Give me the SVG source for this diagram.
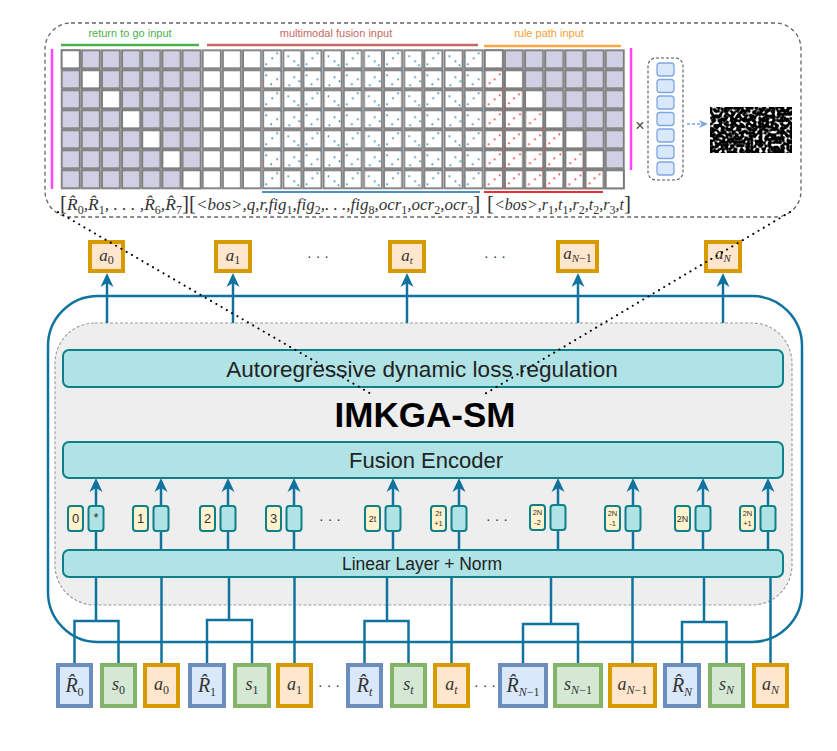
<svg xmlns="http://www.w3.org/2000/svg" width="837" height="751" viewBox="0 0 837 751">
<defs>
<style>
.bar{fill:#b0e3e6;stroke:#0e8088;stroke-width:2}
.tk{fill:#b0e3e6;stroke:#0e8088;stroke-width:2}
.ty{fill:#fff2cc;stroke:#0e8088;stroke-width:2}
.out{fill:#ffe6cc;stroke:#d79b00;stroke-width:4}
.inR{fill:#dae8fc;stroke:#6c8ebf;stroke-width:4}
.inS{fill:#d5e8d4;stroke:#82b366;stroke-width:4}
.inA{fill:#ffe6cc;stroke:#d79b00;stroke-width:4}
.sans{font-family:"Liberation Sans",Arial,sans-serif}
.m{font-family:"Liberation Serif","Times New Roman",serif;font-style:italic;fill:#333}
.s{font-size:12px;font-style:normal}
.si{font-size:12px}
.br{font-size:21px;font-style:normal}
.cn{fill:none;stroke:#10739e;stroke-width:2.5}
.ar{fill:none;stroke:#10739e;stroke-width:2.5;marker-end:url(#ah)}
.dotl{fill:none;stroke:#000;stroke-width:2;stroke-dasharray:0.1 6;stroke-linecap:round}
.tl{font-family:"Liberation Sans",Arial,sans-serif;font-size:13px;fill:#333;text-anchor:middle}
.tl9{font-family:"Liberation Sans",Arial,sans-serif;font-size:9px;fill:#333;text-anchor:middle}
.tl7{font-family:"Liberation Sans",Arial,sans-serif;font-size:7.5px;fill:#333;text-anchor:middle}
.dd{font-family:"Liberation Sans",Arial,sans-serif;font-size:14px;fill:#333;text-anchor:middle}
.vc{fill:#dae8fc;stroke:#7ea6e0;stroke-width:1.3}
</style>
<marker id="ah" markerUnits="userSpaceOnUse" markerWidth="14" markerHeight="14" viewBox="0 0 14 14" refX="8" refY="7" orient="auto">
<path d="M0,0.5 L14,7 L0,13.5 L4,7 z" fill="#10739e"/>
</marker>
<marker id="ahb" markerUnits="userSpaceOnUse" markerWidth="9" markerHeight="9" viewBox="0 0 9 9" refX="3" refY="4.5" orient="auto">
<path d="M0,0.5 L9,4.5 L0,8.5 L2.5,4.5 z" fill="#7ea6e0"/>
</marker>
<pattern id="pP" patternUnits="userSpaceOnUse" x="60.7" y="49.3" width="20.15" height="20">
<rect x="1" y="1" width="18" height="18" fill="#d0cfe4" stroke="#7b7b7b" stroke-width="1.8"/>
</pattern>
<pattern id="pW" patternUnits="userSpaceOnUse" x="60.7" y="49.3" width="20.15" height="20">
<rect x="1" y="1" width="18" height="18" fill="#fff" stroke="#7b7b7b" stroke-width="1.8"/>
</pattern>
<pattern id="pB" patternUnits="userSpaceOnUse" x="60.7" y="49.3" width="40.3" height="40">
<rect x="1" y="1" width="18" height="18" fill="#fff" stroke="#7b7b7b" stroke-width="1.8"/>
<rect x="21.15" y="1" width="18" height="18" fill="#fff" stroke="#7b7b7b" stroke-width="1.8"/>
<rect x="1" y="21" width="18" height="18" fill="#fff" stroke="#7b7b7b" stroke-width="1.8"/>
<rect x="21.15" y="21" width="18" height="18" fill="#fff" stroke="#7b7b7b" stroke-width="1.8"/>
<g fill="#3d8fc4">
<circle cx="4" cy="15" r="1"/><circle cx="10" cy="9" r="1"/><circle cx="15" cy="4" r="1"/><circle cx="1" cy="7" r="1"/>
<circle cx="26" cy="7" r="1"/><circle cx="32" cy="12" r="1"/><circle cx="36" cy="16" r="1"/>
<circle cx="4" cy="26" r="1"/><circle cx="9" cy="35" r="1"/><circle cx="15" cy="30" r="1"/><circle cx="19" cy="22" r="1"/>
<circle cx="27" cy="36" r="1"/><circle cx="32" cy="28" r="1"/><circle cx="37" cy="32" r="1"/>
</g>
</pattern>
<pattern id="pR" patternUnits="userSpaceOnUse" x="60.7" y="49.3" width="40.3" height="40">
<rect x="1" y="1" width="18" height="18" fill="#fff" stroke="#7b7b7b" stroke-width="1.8"/>
<rect x="21.15" y="1" width="18" height="18" fill="#fff" stroke="#7b7b7b" stroke-width="1.8"/>
<rect x="1" y="21" width="18" height="18" fill="#fff" stroke="#7b7b7b" stroke-width="1.8"/>
<rect x="21.15" y="21" width="18" height="18" fill="#fff" stroke="#7b7b7b" stroke-width="1.8"/>
<g fill="#ff3a3a">
<circle cx="5" cy="14" r="1"/><circle cx="10" cy="9" r="1"/><circle cx="15" cy="5" r="1"/><circle cx="1" cy="19" r="1"/>
<circle cx="25" cy="15" r="1"/><circle cx="31" cy="10" r="1"/><circle cx="36" cy="6" r="1"/>
<circle cx="5" cy="35" r="1"/><circle cx="10" cy="29" r="1"/><circle cx="16" cy="25" r="1"/>
<circle cx="26" cy="34" r="1"/><circle cx="31" cy="30" r="1"/><circle cx="36" cy="25" r="1"/><circle cx="39" cy="39" r="1"/>
</g>
</pattern>
<filter id="nz" x="0" y="0" width="1" height="1" color-interpolation-filters="sRGB">
<feTurbulence type="fractalNoise" baseFrequency="0.32" numOctaves="1" seed="11"/>
<feColorMatrix type="matrix" values="1 0 0 0 0  1 0 0 0 0  1 0 0 0 0  0 0 0 0 1"/>
<feComponentTransfer>
<feFuncR type="linear" slope="5" intercept="-2.5"/>
<feFuncG type="linear" slope="5" intercept="-2.5"/>
<feFuncB type="linear" slope="5" intercept="-2.5"/>
</feComponentTransfer>
</filter>
</defs>
<rect width="837" height="751" fill="#fff"/>

<!-- magnifier panel -->
<g id="attention-panel">
<rect x="45" y="23" width="756" height="194" rx="26" fill="none" stroke="#666" stroke-width="1.3" stroke-dasharray="4 3"/>
<text class="sans" x="130" y="37" font-size="11" fill="#4cb04c" text-anchor="middle">return to go input</text>
<text class="sans" x="336" y="37" font-size="11" fill="#c46a63" text-anchor="middle">multimodal fusion input</text>
<text class="sans" x="549" y="37" font-size="11" fill="#f5a033" text-anchor="middle">rule path input</text>
<line x1="61" y1="45" x2="199" y2="45" stroke="#4cb04c" stroke-width="2.5"/>
<line x1="207" y1="45" x2="478" y2="45" stroke="#c46a63" stroke-width="2.5"/>
<line x1="484" y1="46" x2="621" y2="46" stroke="#ffa640" stroke-width="2.5"/>
<line x1="52" y1="49" x2="52" y2="189" stroke="#ff44ff" stroke-width="2.5"/>
<line x1="631" y1="48" x2="631" y2="170" stroke="#ff44ff" stroke-width="2.5"/>
<!-- matrix -->
<rect x="60.7" y="49.3" width="141.05" height="140" fill="url(#pP)"/>
<rect x="60.7" y="49.3" width="20.15" height="20" fill="url(#pW)"/>
<rect x="80.85" y="69.3" width="20.15" height="20" fill="url(#pW)"/>
<rect x="101" y="89.3" width="20.15" height="20" fill="url(#pW)"/>
<rect x="121.15" y="109.3" width="20.15" height="20" fill="url(#pW)"/>
<rect x="141.3" y="129.3" width="20.15" height="20" fill="url(#pW)"/>
<rect x="161.45" y="149.3" width="20.15" height="20" fill="url(#pW)"/>
<rect x="181.6" y="169.3" width="20.15" height="20" fill="url(#pW)"/>
<rect x="201.75" y="49.3" width="60.45" height="140" fill="url(#pW)"/>
<rect x="262.2" y="49.3" width="221.65" height="140" fill="url(#pB)"/>
<rect x="483.85" y="49.3" width="141.05" height="140" fill="url(#pP)"/>
<rect x="483.85" y="49.3" width="20.15" height="20" fill="url(#pW)"/>
<rect x="483.85" y="69.3" width="20.15" height="20" fill="url(#pR)"/>
<rect x="504" y="69.3" width="20.15" height="20" fill="url(#pW)"/>
<rect x="483.85" y="89.3" width="40.3" height="20" fill="url(#pR)"/>
<rect x="524.15" y="89.3" width="20.15" height="20" fill="url(#pW)"/>
<rect x="483.85" y="109.3" width="60.45" height="20" fill="url(#pR)"/>
<rect x="544.3" y="109.3" width="20.15" height="20" fill="url(#pW)"/>
<rect x="483.85" y="129.3" width="80.6" height="20" fill="url(#pR)"/>
<rect x="564.45" y="129.3" width="20.15" height="20" fill="url(#pW)"/>
<rect x="483.85" y="149.3" width="100.75" height="20" fill="url(#pR)"/>
<rect x="584.6" y="149.3" width="20.15" height="20" fill="url(#pW)"/>
<rect x="483.85" y="169.3" width="120.9" height="20" fill="url(#pR)"/>
<rect x="604.75" y="169.3" width="20.15" height="20" fill="url(#pW)"/>
<line x1="262" y1="192" x2="480" y2="192" stroke="#4a90c0" stroke-width="2"/>
<line x1="484" y1="192" x2="603" y2="192" stroke="#e83030" stroke-width="2"/>
<text class="m" x="60" y="210" font-size="17.5"><tspan class="br">[</tspan>R̂<tspan class="s" dy="4">0</tspan><tspan dy="-4">,R̂</tspan><tspan class="s" dy="4">1</tspan><tspan dy="-4">, . . . ,R̂</tspan><tspan class="s" dy="4">6</tspan><tspan dy="-4">,R̂</tspan><tspan class="s" dy="4">7</tspan><tspan class="br" dy="-4">]</tspan></text>
<text class="m" x="189" y="210" font-size="17"><tspan class="br">[</tspan>&lt;bos&gt;,q,r,fig<tspan class="s" dy="4">1</tspan><tspan dy="-4">,fig</tspan><tspan class="s" dy="4">2</tspan><tspan dy="-4">,. . .,fig</tspan><tspan class="s" dy="4">8</tspan><tspan dy="-4">,ocr</tspan><tspan class="s" dy="4">1</tspan><tspan dy="-4">,ocr</tspan><tspan class="s" dy="4">2</tspan><tspan dy="-4">,ocr</tspan><tspan class="s" dy="4">3</tspan><tspan class="br" dy="-4">]</tspan></text>
<text class="m" x="487" y="210" font-size="16"><tspan class="br">[</tspan>&lt;bos&gt;,r<tspan class="s" dy="4">1</tspan><tspan dy="-4">,t</tspan><tspan class="s" dy="4">1</tspan><tspan dy="-4">,r</tspan><tspan class="s" dy="4">2</tspan><tspan dy="-4">,t</tspan><tspan class="s" dy="4">2</tspan><tspan dy="-4">,r</tspan><tspan class="s" dy="4">3</tspan><tspan dy="-4">,t</tspan><tspan class="br">]</tspan></text>
<text class="sans" x="640" y="131" font-size="16" fill="#444" text-anchor="middle">×</text>
<rect x="648" y="58" width="35" height="122" rx="8" fill="none" stroke="#555" stroke-width="1.1" stroke-dasharray="3 2"/>
<rect class="vc" x="657" y="63" width="17" height="13" rx="3"/>
<rect class="vc" x="657" y="79.5" width="17" height="13" rx="3"/>
<rect class="vc" x="657" y="96" width="17" height="13" rx="3"/>
<rect class="vc" x="657" y="112.5" width="17" height="13" rx="3"/>
<rect class="vc" x="657" y="129" width="17" height="13" rx="3"/>
<rect class="vc" x="657" y="145.5" width="17" height="13" rx="3"/>
<rect class="vc" x="657" y="162" width="17" height="13" rx="3"/>
<line x1="687" y1="124" x2="702" y2="124" stroke="#7ea6e0" stroke-width="1.5" stroke-dasharray="3 2" marker-end="url(#ahb)"/>
<rect x="710" y="107" width="82" height="46" fill="#000" filter="url(#nz)"/>
</g>

<!-- main model -->
<g id="outer-box">
<rect x="48" y="296" width="754" height="346" rx="50" fill="none" stroke="#10739e" stroke-width="2.5"/>
</g>
<g id="imkga-sm">
<rect x="55" y="323" width="737" height="282" rx="40" fill="#eeeeee" stroke="#999" stroke-width="1.1" stroke-dasharray="3 2"/>
<text class="sans" x="425" y="427" font-size="35" font-weight="bold" fill="#000" text-anchor="middle">IMKGA-SM</text>
</g>
<g id="loss-regulation">
<rect class="bar" x="63" y="350" width="720" height="37" rx="6"/>
<text class="sans" x="422" y="377" font-size="22.5" fill="#222" text-anchor="middle">Autoregressive dynamic loss regulation</text>
</g>
<g id="fusion-encoder">
<rect class="bar" x="63" y="442" width="720" height="36" rx="6"/>
<text class="sans" x="426" y="468" font-size="22" fill="#222" text-anchor="middle">Fusion Encoder</text>
</g>
<g id="linear-layer">
<rect class="bar" x="63" y="550" width="720" height="27" rx="6"/>
<text class="sans" x="422" y="570" font-size="17.5" fill="#222" text-anchor="middle">Linear Layer + Norm</text>
</g>

<g id="connectors">
<path class="ar" d="M107,323 V279"/>
<path class="ar" d="M233,323 V279"/>
<path class="ar" d="M407,323 V279"/>
<path class="ar" d="M578,323 V279"/>
<path class="ar" d="M723,323 V279"/>
<path class="ar" d="M96,550 V484"/>
<path class="ar" d="M161,550 V484"/>
<path class="ar" d="M228,550 V484"/>
<path class="ar" d="M294,550 V484"/>
<path class="ar" d="M393,550 V484"/>
<path class="ar" d="M459,550 V484"/>
<path class="ar" d="M558,550 V484"/>
<path class="ar" d="M633,550 V484"/>
<path class="ar" d="M703,550 V484"/>
<path class="ar" d="M768,550 V484"/>
<path class="cn" d="M74.5,665 V621 H118.5 V665 M96,621 V577"/>
<path class="cn" d="M161.5,665 V577"/>
<path class="cn" d="M207,665 V620 H252 V665 M229,620 V577"/>
<path class="cn" d="M294.5,665 V577"/>
<path class="cn" d="M364.5,665 V621 H408.5 V665 M387,621 V577"/>
<path class="cn" d="M451.5,665 V577"/>
<path class="cn" d="M523,665 V624 H578 V665 M551,624 V577"/>
<path class="cn" d="M632.5,665 V577"/>
<path class="cn" d="M682,665 V622 H726.5 V665 M704,622 V577"/>
<path class="cn" d="M770.5,665 V577"/>
</g>

<!-- token pairs -->
<g id="tok-0"><rect class="ty" x="68" y="506" width="15" height="25" rx="3"/><rect class="tk" x="88.5" y="506" width="15" height="25" rx="3"/><text class="tl" x="75.5" y="523">0</text><text class="tl" x="96" y="522" font-size="11">*</text></g>
<g id="tok-1"><rect class="ty" x="133" y="506" width="15" height="25" rx="3"/><rect class="tk" x="153.5" y="506" width="15" height="25" rx="3"/><text class="tl" x="140.5" y="523">1</text></g>
<g id="tok-2"><rect class="ty" x="200" y="506" width="15" height="25" rx="3"/><rect class="tk" x="220.5" y="506" width="15" height="25" rx="3"/><text class="tl" x="207.5" y="523">2</text></g>
<g id="tok-3"><rect class="ty" x="266" y="506" width="15" height="25" rx="3"/><rect class="tk" x="286.5" y="506" width="15" height="25" rx="3"/><text class="tl" x="273.5" y="523">3</text></g>
<g id="tok-2t"><rect class="ty" x="365" y="506" width="15" height="25" rx="3"/><rect class="tk" x="385.5" y="506" width="15" height="25" rx="3"/><text class="tl9" x="372.5" y="522">2t</text></g>
<g id="tok-2t1"><rect class="ty" x="431" y="506" width="15" height="25" rx="3"/><rect class="tk" x="451.5" y="506" width="15" height="25" rx="3"/><text class="tl7" x="438.5" y="516">2t</text><text class="tl7" x="438.5" y="526">+1</text></g>
<g id="tok-2n2"><rect class="ty" x="530" y="505" width="15" height="25" rx="3"/><rect class="tk" x="550.5" y="505" width="15" height="25" rx="3"/><text class="tl7" x="537.5" y="515">2N</text><text class="tl7" x="537.5" y="525">-2</text></g>
<g id="tok-2n1"><rect class="ty" x="605" y="506" width="15" height="25" rx="3"/><rect class="tk" x="625.5" y="506" width="15" height="25" rx="3"/><text class="tl7" x="612.5" y="516">2N</text><text class="tl7" x="612.5" y="526">-1</text></g>
<g id="tok-2n"><rect class="ty" x="675" y="506" width="15" height="25" rx="3"/><rect class="tk" x="695.5" y="506" width="15" height="25" rx="3"/><text class="tl9" x="682.5" y="522">2N</text></g>
<g id="tok-2n+1"><rect class="ty" x="740" y="506" width="15" height="25" rx="3"/><rect class="tk" x="760.5" y="506" width="15" height="25" rx="3"/><text class="tl7" x="747.5" y="516">2N</text><text class="tl7" x="747.5" y="526">+1</text></g>
<text class="dd" x="330" y="524">· · ·</text>
<text class="dd" x="497" y="524">· · ·</text>

<!-- outputs -->
<g id="out-a0"><rect class="out" x="90" y="242" width="33" height="29"/><text class="m" x="106.5" y="261" font-size="17" text-anchor="middle">a<tspan class="s" font-size="11" dy="3">0</tspan></text></g>
<g id="out-a1"><rect class="out" x="216" y="242" width="34" height="29"/><text class="m" x="233" y="261" font-size="17" text-anchor="middle">a<tspan class="s" font-size="11" dy="3">1</tspan></text></g>
<g id="out-at"><rect class="out" x="390" y="242" width="34" height="29"/><text class="m" x="407" y="261" font-size="17" text-anchor="middle">a<tspan font-size="11" dy="3">t</tspan></text></g>
<g id="out-aN-1"><rect class="out" x="558" y="242" width="39" height="29"/><text class="m" x="577.5" y="259" font-size="17" text-anchor="middle">a<tspan font-size="11" dy="3">N</tspan><tspan class="s" font-size="11">−1</tspan></text></g>
<g id="out-aN"><rect class="out" x="706" y="242" width="34" height="29"/><text class="m" x="723" y="259" font-size="17" text-anchor="middle">a<tspan font-size="11" dy="3">N</tspan></text></g>
<text class="dd" x="318" y="261">· · ·</text>
<text class="dd" x="495" y="261">· · ·</text>

<!-- inputs -->
<g id="in-R0"><rect class="inR" x="58" y="665" width="33" height="41"/><text class="m" x="74.5" y="692" font-size="20" text-anchor="middle">R̂<tspan class="s" dy="4">0</tspan></text></g>
<g id="in-s0"><rect class="inS" x="102" y="665" width="33" height="41"/><text class="m" x="118.5" y="690" font-size="18" text-anchor="middle">s<tspan class="s" dy="4">0</tspan></text></g>
<g id="in-a0"><rect class="inA" x="145" y="665" width="33" height="41"/><text class="m" x="161.5" y="690" font-size="18" text-anchor="middle">a<tspan class="s" dy="4">0</tspan></text></g>
<g id="in-R1"><rect class="inR" x="190" y="665" width="34" height="41"/><text class="m" x="207" y="692" font-size="20" text-anchor="middle">R̂<tspan class="s" dy="4">1</tspan></text></g>
<g id="in-s1"><rect class="inS" x="235" y="665" width="34" height="41"/><text class="m" x="252" y="690" font-size="18" text-anchor="middle">s<tspan class="s" dy="4">1</tspan></text></g>
<g id="in-a1"><rect class="inA" x="278" y="665" width="33" height="41"/><text class="m" x="294.5" y="690" font-size="18" text-anchor="middle">a<tspan class="s" dy="4">1</tspan></text></g>
<text class="dd" x="329" y="690">· · ·</text>
<g id="in-Rt"><rect class="inR" x="348" y="665" width="33" height="41"/><text class="m" x="364.5" y="692" font-size="20" text-anchor="middle">R̂<tspan class="si" dy="4">t</tspan></text></g>
<g id="in-st"><rect class="inS" x="392" y="665" width="33" height="41"/><text class="m" x="408.5" y="690" font-size="18" text-anchor="middle">s<tspan class="si" dy="4">t</tspan></text></g>
<g id="in-at"><rect class="inA" x="435" y="665" width="33" height="41"/><text class="m" x="451.5" y="690" font-size="18" text-anchor="middle">a<tspan class="si" dy="4">t</tspan></text></g>
<text class="dd" x="485" y="690">· · ·</text>
<g id="in-RN-1"><rect class="inR" x="500" y="665" width="46" height="41"/><text class="m" x="523" y="692" font-size="20" text-anchor="middle">R̂<tspan class="si" dy="4">N</tspan><tspan class="s">−1</tspan></text></g>
<g id="in-sN-1"><rect class="inS" x="555" y="665" width="46" height="41"/><text class="m" x="578" y="690" font-size="18" text-anchor="middle">s<tspan class="si" dy="4">N</tspan><tspan class="s">−1</tspan></text></g>
<g id="in-aN-1"><rect class="inA" x="610" y="665" width="45" height="41"/><text class="m" x="632.5" y="690" font-size="18" text-anchor="middle">a<tspan class="si" dy="4">N</tspan><tspan class="s">−1</tspan></text></g>
<g id="in-RN"><rect class="inR" x="665" y="665" width="34" height="41"/><text class="m" x="682" y="692" font-size="20" text-anchor="middle">R̂<tspan class="si" dy="4">N</tspan></text></g>
<g id="in-sN"><rect class="inS" x="710" y="665" width="33" height="41"/><text class="m" x="726.5" y="690" font-size="18" text-anchor="middle">s<tspan class="si" dy="4">N</tspan></text></g>
<g id="in-aN"><rect class="inA" x="754" y="665" width="33" height="41"/><text class="m" x="770.5" y="690" font-size="18" text-anchor="middle">a<tspan class="si" dy="4">N</tspan></text></g>

<g id="zoom-lines">
<line class="dotl" x1="58" y1="212" x2="373" y2="395"/>
<line class="dotl" x1="790" y1="212" x2="483" y2="395"/>
</g>
</svg>
